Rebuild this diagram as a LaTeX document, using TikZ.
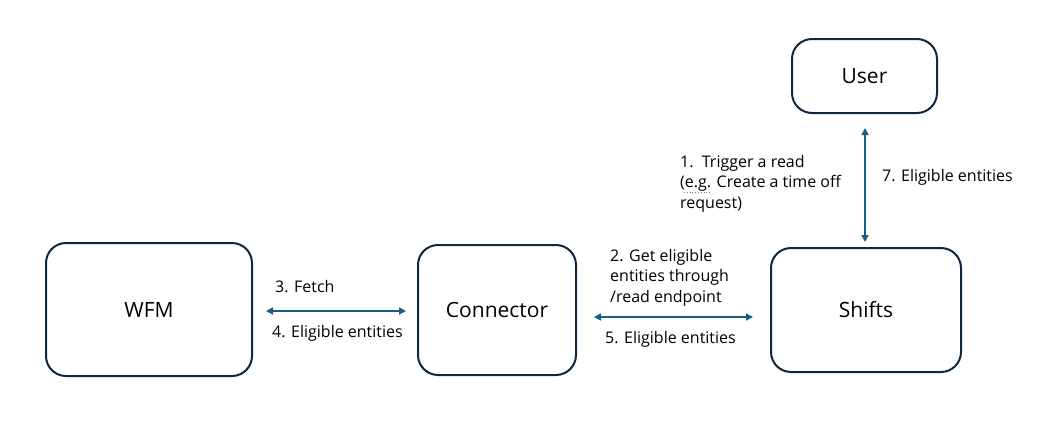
\documentclass[tikz,border=0pt]{standalone}
\usepackage{fontspec}
\setmainfont{Open Sans}
\usetikzlibrary{arrows.meta}
\definecolor{boxc}{HTML}{0E2841}
\definecolor{arrc}{HTML}{156082}
\begin{document}
\begin{tikzpicture}[x=1pt,y=-1pt,
  box/.style={draw=boxc, line width=2pt, rounded corners=20pt, fill=white,
    font=\fontsize{21}{25}\selectfont, inner sep=0pt},
  lbl/.style={font=\fontsize{16}{20.5}\selectfont, align=left, inner sep=0pt, anchor=west},
  arr/.style={draw=arrc, line width=1.6pt,
    {Triangle[length=7pt,width=7pt]}-{Triangle[length=7pt,width=7pt]}}]
\useasboundingbox (0,0) rectangle (1050,426);
\node[box, minimum width=206pt, minimum height=133pt] (wfm) at (149,309.5) {WFM};
\node[box, minimum width=158pt, minimum height=130pt] (conn) at (497,310) {Connector};
\node[box, minimum width=190pt, minimum height=124pt] (shifts) at (866,310) {Shifts};
\node[box, minimum width=145pt, minimum height=74pt] (user) at (864.5,76) {User};
\coordinate (ya) at (0,311);
\coordinate (yb) at (0,317);
\coordinate (xc) at (865,0);
\draw[arr, shorten <=13pt, shorten >=11pt] (wfm.east |- ya) -- (conn.west |- ya);
\draw[arr, shorten <=17pt, shorten >=17pt] (conn.east |- yb) -- (shifts.west |- yb);
\draw[arr, shorten <=14pt, shorten >=5pt] (xc |- user.south) -- (xc |- shifts.north);
\node[lbl] (l3) at (275,287) {3. Fetch};
\node[lbl] (l4) at (272,333) {4. Eligible entities};
\node[lbl] (l2) at (610,277.5) {2. Get eligible\\entities through\\/read endpoint};
\node[lbl] (l5) at (605,339) {5. Eligible entities};
\node[lbl] (l1) at (680,183.5) {1.\ \ Trigger a read\\(e.g. Create a time off\\request)};
\node[lbl] (l7) at (882,177) {7. Eligible entities};
\draw[gray, dotted, line width=0.8pt] (684,192.5) -- (712,192.5);
\end{tikzpicture}
\end{document}
